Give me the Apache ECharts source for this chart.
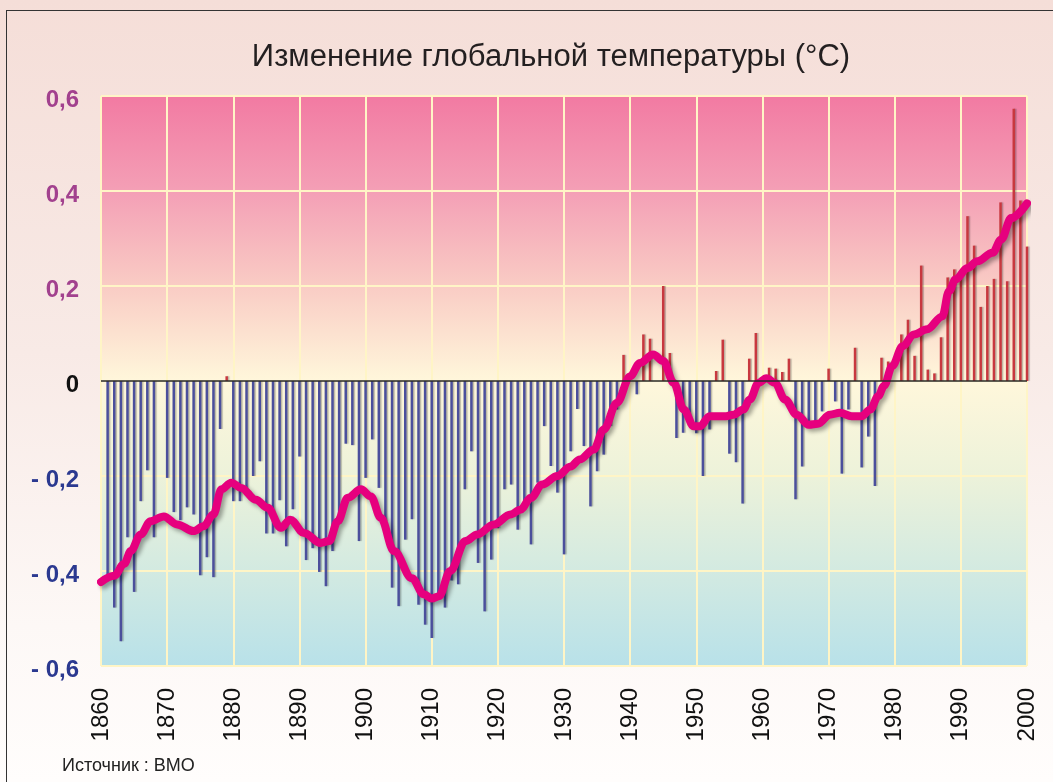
<!DOCTYPE html>
<html><head><meta charset="utf-8">
<script src="https://cdn.jsdelivr.net/npm/echarts@6/dist/echarts.min.js"></script>
<style>
html,body{margin:0;padding:0;width:1053px;height:782px;overflow:hidden;background:#fff;}
#bg{position:absolute;left:0;top:0;width:1053px;height:782px;background:linear-gradient(#F5DED8 0%,#F8EAE6 45%,#FDF8F6 80%,#FFFDFC 100%);}
#frame{position:absolute;left:6px;top:10px;width:1200px;height:900px;border:1px solid #333;}
#chart{position:absolute;left:0;top:0;width:1053px;height:782px;}
</style></head>
<body>
<div id="bg"></div><div id="frame"></div>
<div id="chart"></div>
<script>
// Annual anomalies (bars)
const barYears = [1861,1862,1863,1864,1865,1866,1867,1868,1870,
1871,1872,1873,1874,1875,1876,1877,1878,1879,1880,
1881,1882,1883,1884,1885,1886,1887,1888,1889,1890,
1891,1892,1893,1894,1895,1896,1897,1898,1899,1900,
1901,1902,1903,1904,1905,1906,1907,1908,1909,1910,
1911,1912,1913,1914,1915,1916,1917,1918,1919,1920,
1921,1922,1923,1924,1925,1926,1927,1928,1929,1930,
1931,1932,1933,1934,1935,1936,1937,1938,1939,
1941,1942,1943,1945,1946,1947,1948,1949,1950,
1951,1952,1953,1954,1955,1956,1957,1958,1959,
1961,1962,1963,1964,1965,1966,1967,1968,1969,1970,
1971,1972,1973,1974,1975,1976,1977,1978,1979,
1981,1982,1983,1984,1985,1986,1987,1988,1989,1990,
1991,1992,1993,1994,1995,1996,1997,1998,1999,2000];
const barValues = [-0.418,-0.477,-0.548,-0.329,-0.444,-0.253,-0.188,-0.329,-0.204,
-0.276,-0.293,-0.266,-0.281,-0.409,-0.371,-0.413,-0.101,0.01,-0.253,
-0.253,-0.226,-0.2,-0.169,-0.321,-0.321,-0.251,-0.348,-0.27,-0.159,
-0.377,-0.352,-0.402,-0.432,-0.358,-0.30,-0.132,-0.135,-0.337,-0.204,
-0.123,-0.225,-0.295,-0.435,-0.474,-0.334,-0.291,-0.471,-0.513,-0.541,
-0.45,-0.477,-0.42,-0.428,-0.228,-0.148,-0.383,-0.485,-0.376,-0.31,
-0.228,-0.218,-0.313,-0.27,-0.344,-0.214,-0.095,-0.179,-0.235,-0.365,
-0.148,-0.059,-0.137,-0.264,-0.19,-0.155,-0.095,-0.06,0.055,
-0.028,0.098,0.089,0.2,0.059,-0.12,-0.109,-0.09,-0.11,
-0.2,-0.102,0.021,0.087,-0.153,-0.171,-0.258,0.047,0.101,
0.028,0.026,0.019,0.047,-0.249,-0.18,-0.085,-0.085,-0.064,0.026,
-0.043,-0.195,-0.06,0.07,-0.182,-0.117,-0.221,0.049,0.041,
0.098,0.129,0.053,0.243,0.024,0.016,0.092,0.218,0.235,0.22,
0.347,0.285,0.156,0.2,0.215,0.376,0.21,0.573,0.38,0.283];

// Smoothed curve
const lineYears = [1860,1862,1863.5,1864.5,1866,1867.5,1869.5,1871.5,1874,1875.5,1877,1878.2,1879.7,1881.2,1883.4,
1885.2,1887.2,1888.6,1890.7,1893.2,1894.5,1895.8,1897.3,1899.3,1900.8,1902.3,1904.3,1907,1908.8,1910,1911.1,
1912.8,1915.1,1916.9,1919.4,1921.9,1923.4,1925,1926.7,1929,1931,1932.4,1934.5,1936,1938,1940,1941.5,1943.5,
1945,1946.6,1948.1,1949.6,1950.6,1952,1954.5,1955.6,1957.1,1958.1,1959.4,1960.6,1961.9,1963.4,1965.2,1967,
1968.4,1970.2,1971.7,1973.5,1975,1976.3,1977.5,1978.4,1979.6,1981.2,1982.9,1984.9,1987.2,1988.2,1989.2,1991,
1992.5,1994.8,1996.1,1997.6,2000];
const lineValues = [-0.423,-0.41,-0.385,-0.358,-0.323,-0.295,-0.285,-0.302,-0.316,-0.306,-0.281,-0.228,-0.214,-0.225,-0.25,
-0.267,-0.309,-0.292,-0.32,-0.341,-0.337,-0.295,-0.246,-0.228,-0.243,-0.288,-0.358,-0.415,-0.449,-0.458,-0.453,
-0.4,-0.337,-0.323,-0.302,-0.281,-0.271,-0.246,-0.218,-0.2,-0.18,-0.165,-0.144,-0.102,-0.046,0.01,0.038,0.056,
0.042,-0.004,-0.06,-0.095,-0.095,-0.074,-0.074,-0.071,-0.06,-0.039,-0.004,0.006,-0.004,-0.039,-0.071,-0.092,
-0.09,-0.071,-0.067,-0.074,-0.074,-0.06,-0.032,-0.01,0.031,0.073,0.098,0.109,0.136,0.189,0.214,0.238,
0.252,0.27,0.298,0.343,0.374];

const yTicks = [-0.6,-0.4,-0.2,0,0.2,0.4,0.6];
const titleText = 'Изменение глобальной температуры (°C)';
const sourceText = 'Источник : ВМО';

const chart = echarts.init(document.getElementById('chart'), null, {renderer:'canvas'});
const FONT = 'Arial, "Liberation Sans", sans-serif';
function fmtY(v){
  const r = Math.round(v*10)/10;
  if (r === 0) return '{z|0}';
  const s = Math.abs(r).toFixed(1).replace('.', ',');
  return r > 0 ? '{p|' + s + '}' : '{n|- ' + s + '}';
}
const labStyle = (c)=>({fontSize:24,fontWeight:'bold',fontFamily:FONT,color:c,padding:[8,0,0,0]});
chart.setOption({
  animation:false,
  title:{text:titleText,left:546,top:37,textAlign:'center',
    textStyle:{fontFamily:FONT,fontSize:31,fontWeight:'normal',color:'#231F20'}},
  grid:{left:101,right:26,top:96,bottom:116,show:true,borderColor:'#3a3a3a',borderWidth:1,
    backgroundColor:new echarts.graphic.LinearGradient(0,0,0,1,[
      {offset:0,color:'#F27AA2'},
      {offset:0.17,color:'#F4A0B6'},
      {offset:0.33,color:'#F9CBC4'},
      {offset:0.5,color:'#FFF7DB'},
      {offset:0.67,color:'#ECF2DA'},
      {offset:0.83,color:'#D3EAE1'},
      {offset:1,color:'#B8E1E9'}])},
  xAxis:{type:'value',min:1860,max:2000,interval:10,
    axisLine:{show:false},axisTick:{show:false},
    axisLabel:{rotate:90,fontSize:24,fontFamily:FONT,color:'#111',margin:22,formatter:v=>String(v)},
    splitLine:{show:true,lineStyle:{color:'#FFF5C6',width:2}}},
  yAxis:{type:'value',min:-0.6,max:0.6,interval:0.2,
    axisLine:{show:false},axisTick:{show:false},
    axisLabel:{formatter:fmtY,margin:22,
      rich:{p:labStyle('#A2418E'),z:labStyle('#111'),n:labStyle('#2B3990')}},
    splitLine:{show:true,lineStyle:{color:'#FFF5C6',width:2}}},
  series:[
    {type:'bar',barWidth:2.5,
      data:barYears.map((y,i)=>[y,barValues[i]]),
      itemStyle:{color:p=>p.value[1]>=0?'#C8383F':'#4B4F9C',
        shadowColor:'rgba(0,0,0,0.25)',shadowOffsetX:1.5,shadowBlur:1},
      markLine:{silent:true,symbol:'none',label:{show:false},
        lineStyle:{color:'#2a2a2a',width:1.5,type:'solid'},data:[{yAxis:0}]},
      z:2},
    {type:'line',smooth:0.35,smoothMonotone:'x',symbol:'none',
      data:lineYears.map((y,i)=>[y,lineValues[i]]),
      lineStyle:{color:'#E6007E',width:8,cap:'round',join:'round',
        shadowColor:'rgba(0,0,0,0.35)',shadowBlur:4,shadowOffsetX:3,shadowOffsetY:3},
      z:3}
  ],
  graphic:[{type:'text',left:62,top:757,style:{text:sourceText,fontSize:18,fontFamily:FONT,fill:'#222'}}]
});
</script>
</body></html>
